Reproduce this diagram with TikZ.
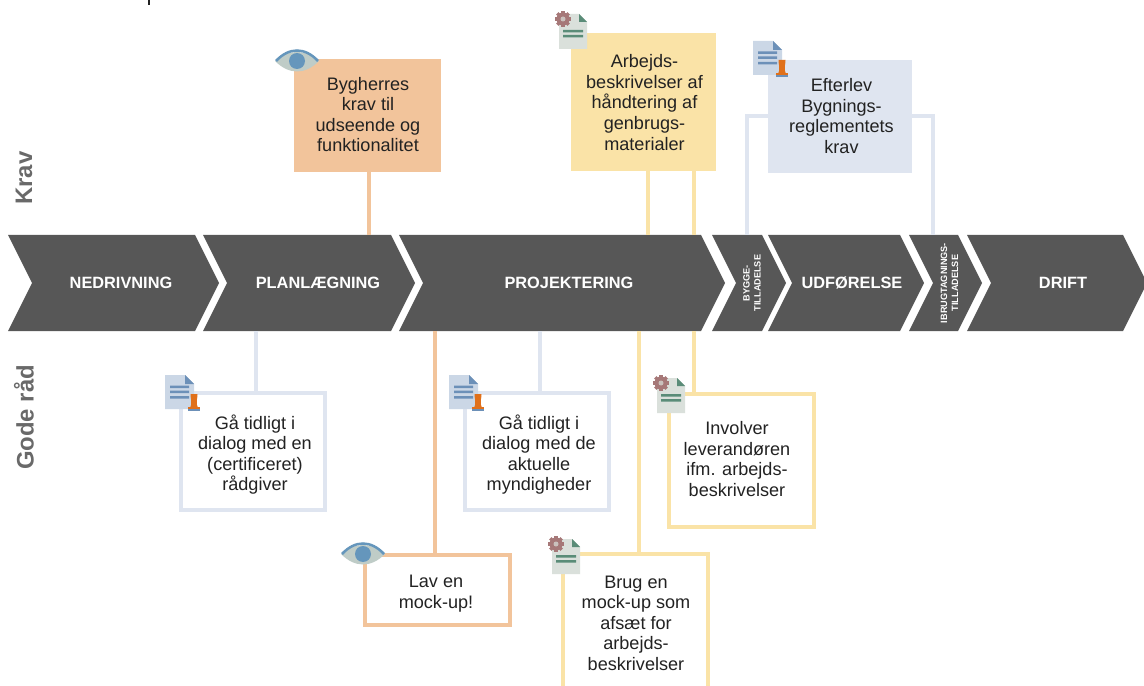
\documentclass[tikz,border=0pt]{standalone}
\usepackage{fontspec}
\setmainfont{Liberation Sans}
\usetikzlibrary{calc}
\newcommand{\px}{0.02cm}
\definecolor{chevgrey}{HTML}{575757}
\definecolor{sidegrey}{HTML}{696969}
\definecolor{softorange}{HTML}{F2C49B}
\definecolor{softyellow}{HTML}{FAE3A7}
\definecolor{softblue}{HTML}{DFE5F0}
\definecolor{inktext}{HTML}{222222}
\definecolor{eyeblue}{HTML}{6596BC}
\definecolor{eyegrey}{HTML}{BFCCC7}
\definecolor{docgreen}{HTML}{DAE0DB}
\definecolor{linegreen}{HTML}{5A8C78}
\definecolor{gearred}{HTML}{A67878}
\definecolor{docblue}{HTML}{CBD7E6}
\definecolor{lineblue}{HTML}{6C90B8}
\definecolor{stamporange}{HTML}{E0701A}
\tikzset{
    x=\px,y=-\px,
    chevron/.style={fill=chevgrey},
    chevtext/.style={text=white,font=\fontsize{9.3}{10}\selectfont\bfseries,inner sep=0pt,
        minimum height=96*\px,align=center},
    chevsmall/.style={chevtext,font=\fontsize{5.2}{6.2}\selectfont\bfseries,rotate=90},
    sidetext/.style={text=sidegrey,font=\fontsize{13.6}{14}\selectfont\bfseries,rotate=90},
    boxtext/.style={text=inktext,font=\fontsize{10.3}{11.7}\selectfont,align=center,inner sep=0pt},
    solidbox/.style={fill=#1,inner sep=0pt},
    openbox/.style={draw=#1,fill=white,line width=4*\px,inner sep=0pt},
    link/.style={draw=#1,line width=4*\px},
    eyeicon/.pic={
        \fill[eyegrey] (-22,0) .. controls (-8,-12) and (8,-12) .. (22,0)
            .. controls (8,14) and (-8,14) .. (-22,0) -- cycle;
        \draw[eyeblue,line width=2.5*\px] (-21,0) .. controls (-8,-14) and (8,-14) .. (21,0);
        \fill[eyeblue] (0,0) circle (8);
    },
    gearicon/.pic={
        \fill[docgreen] (0,0) -- (20,0) -- (28,8) -- (28,35) -- (0,35) -- cycle;
        \fill[linegreen] (20,0) -- (28,8) -- (20,8) -- cycle;
        \fill[linegreen] (4,16) rectangle (24,18.5) (4,21) rectangle (24,23.5);
        \foreach \a in {0,45,...,315}
            \draw[gearred,line width=3.5*\px] (4,5) -- ++(\a:8);
        \fill[gearred] (4,5) circle (6.5);
        \fill[docgreen!70!gearred] (4,5) circle (2.5);
    },
    stampicon/.pic={
        \fill[docblue] (0,0) -- (20,0) -- (29,9) -- (29,34) -- (0,34) -- cycle;
        \fill[lineblue] (20,0) -- (29,9) -- (20,9) -- cycle;
        \fill[lineblue] (5,10.5) rectangle (24,13) (5,15.5) rectangle (24,18) (5,21) rectangle (24,23.5);
        \fill[stamporange] (25.5,19) -- (32.5,19) .. controls (32.5,24) and (31,26) .. (32,30)
            -- (33,33) -- (25,33) -- (26,30) .. controls (27,26) and (25.5,24) .. (25.5,19) -- cycle;
        \fill[stamporange] (23,32) rectangle (35,34);
        \fill[lineblue] (23,34) rectangle (35,36);
    }
}
\begin{document}
\begin{tikzpicture}
    \useasboundingbox (0,0) rectangle (1144,686);
    \clip (0,0) rectangle (1144,686);
    \fill[inktext] (148,0) rectangle (150,5);
    % chevrons
    \foreach \xa/\xb/\xt/\nm/\txt in {
        8/195/121/nedrivning/NEDRIVNING,
        203/391/318/planlaegning/PLANLÆGNING,
        399/701/569/projektering/PROJEKTERING,
        712/762/752/byggetill/{},
        768/900/852/udfoerelse/UDFØRELSE,
        909/958/949/ibrugtill/{},
        967/1123/1063/drift/DRIFT} {
        \fill[chevron] (\xa,235) -- (\xb,235) -- (\xb+24,283) -- (\xb,331)
            -- (\xa,331) -- (\xa+24,283) -- cycle;
        \node[chevtext] (\nm) at (\xt,283) {\txt};
    }
    \node[chevsmall] (byggetxt) at (752,283) {BYGGE-\\TILLADELSE};
    \node[chevsmall] (ibrugtxt) at (949.5,283) {IBRUGTAGNINGS-\\TILLADELSE};
    \node[sidetext] (krav) at (24,178) {Krav};
    \node[sidetext] (goderaad) at (24,417.5) {Gode råd};
    % krav boxes
    \node[solidbox=softorange,minimum width=147*\px,minimum height=113*\px] (bygherre) at (367.5,115.5) {};
    \node[boxtext] (bygherretxt) at (368,114.5)
        {Bygherres\\krav til\\udseende og\\funktionalitet};
    \node[solidbox=softyellow,minimum width=145*\px,minimum height=138*\px] (arbejd) at (643.5,102) {};
    \node[boxtext] (arbejdtxt) at (644.5,102.5)
        {Arbejds-\\beskrivelser af\\håndtering af\\genbrugs-\\materialer};
    \node[solidbox=softblue,minimum width=144*\px,minimum height=113*\px] (efterlev) at (840,116.5) {};
    \node[boxtext] (efterlevtxt) at (841.5,116)
        {Efterlev\\Bygnings-\\reglementets\\krav};
    % gode raad boxes
    \node[openbox=softblue,minimum width=144*\px,minimum height=117*\px] (raadgiver) at (253,451.5) {};
    \node[boxtext] (raadgivertxt) at (255,454.5)
        {Gå tidligt i\\dialog med en\\(certificeret)\\rådgiver};
    \node[openbox=softblue,minimum width=144*\px,minimum height=117*\px] (myndighed) at (537,451.5) {};
    \node[boxtext] (myndighedtxt) at (539,454.5)
        {Gå tidligt i\\dialog med de\\aktuelle\\myndigheder};
    \node[openbox=softorange,minimum width=145*\px,minimum height=70*\px] (mockup) at (437.5,589.5) {};
    \node[boxtext] (mockuptxt) at (436,593.5)
        {Lav en\\mock-up!};
    \node[openbox=softyellow,minimum width=145*\px,minimum height=133*\px] (involver) at (741.5,460.5) {};
    \node[boxtext] (involvertxt) at (737,459)
        {Involver\\leverandøren\\ifm. arbejds-\\beskrivelser};
    \node[openbox=softyellow,minimum width=145*\px,minimum height=138*\px] (brug) at (635.5,623) {};
    \node[boxtext] (brugtxt) at (636,623)
        {Brug en\\mock-up som\\afsæt for\\arbejds-\\beskrivelser};
    % links up
    \coordinate (bygherrelink) at ($(bygherre.south)+(1.5,0)$);
    \coordinate (arbejdlinka) at ($(arbejd.south)+(4.5,0)$);
    \coordinate (arbejdlinkb) at ($(arbejd.south)+(50.5,0)$);
    \draw[link=softorange] (bygherrelink) -- (bygherrelink |- planlaegning.north);
    \draw[link=softyellow] (arbejdlinka) -- (arbejdlinka |- projektering.north);
    \draw[link=softyellow] (arbejdlinkb) -- (arbejdlinkb |- projektering.north);
    \draw[link=softblue] (efterlev.west) -| ($(byggetill.north)+(-5,0)$);
    \draw[link=softblue] (efterlev.east) -| ($(ibrugtill.north)+(-16,0)$);
    % links down
    \coordinate (raadgiverlink) at ($(raadgiver.north)+(3,0)$);
    \coordinate (myndighedlink) at ($(myndighed.north)+(3,0)$);
    \coordinate (mockuplink) at ($(mockup.north)+(-2.5,0)$);
    \coordinate (bruglink) at ($(brug.north)+(3.5,0)$);
    \coordinate (involverlink) at ($(involver.north)+(-47.5,0)$);
    \draw[link=softblue] (raadgiverlink |- planlaegning.south) -- (raadgiverlink);
    \draw[link=softblue] (myndighedlink |- projektering.south) -- (myndighedlink);
    \draw[link=softorange] (mockuplink |- projektering.south) -- (mockuplink);
    \draw[link=softyellow] (bruglink |- projektering.south) -- (bruglink);
    \draw[link=softyellow] (involverlink |- projektering.south) -- (involverlink);
    % icons
    \pic at (297,61) {eyeicon};
    \pic at (363,554) {eyeicon};
    \pic at (559,14) {gearicon};
    \pic at (657,378) {gearicon};
    \pic at (552,539) {gearicon};
    \pic at (753,41) {stampicon};
    \pic at (165,375) {stampicon};
    \pic at (449,375) {stampicon};
\end{tikzpicture}
\end{document}
